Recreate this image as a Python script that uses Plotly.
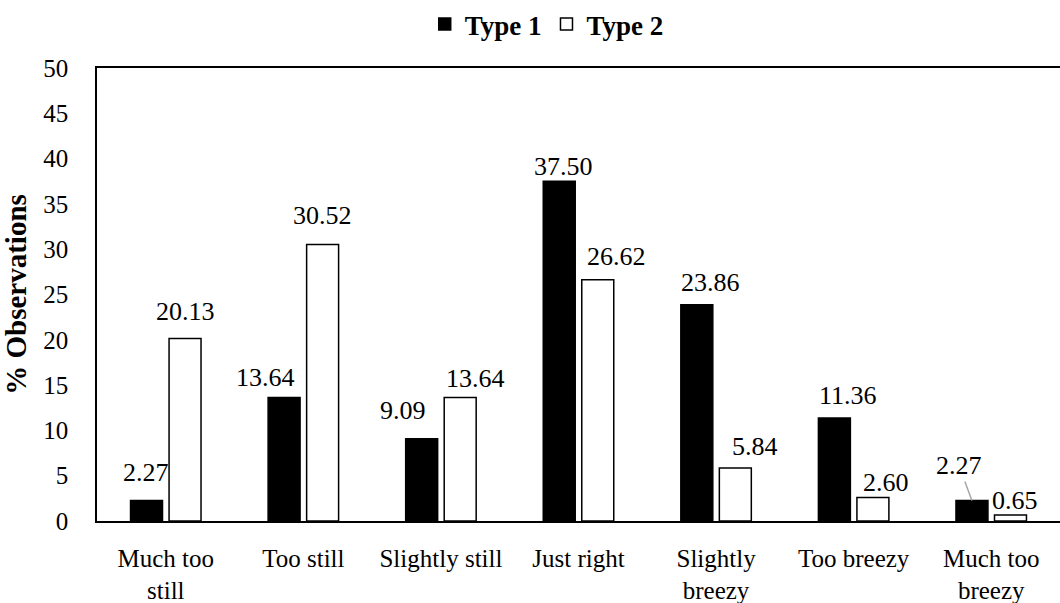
import plotly.graph_objects as go

categories = ["Much too<br>still", "Too still", "Slightly still", "Just right",
              "Slightly<br>breezy", "Too breezy", "Much too<br>breezy"]
type1 = [2.27, 13.64, 9.09, 37.50, 23.86, 11.36, 2.27]
type2 = [20.13, 30.52, 13.64, 26.62, 5.84, 2.60, 0.65]
y_ticks = [0, 5, 10, 15, 20, 25, 30, 35, 40, 45, 50]

# label placement tweaks (pixels): horizontal nudge from bar centre, gap above bar
t1_dx = [0, -19, -19, 4, 14, 14, -13]
t1_gap = [17, 9, 18, 4, 12, 12, 0]
t2_dx = [0, 0, 15, 19, 20, 13, 4]
t2_gap = [17, 18, 8, 13, 11, 4, 4]

FONT = "Liberation Serif, Times New Roman, Times, DejaVu Serif, serif"
SLOT = 19.3  # bar centre offset from category centre (px)
BASE = 6     # baseline offset inside annotation box

fig = go.Figure()
fig.add_trace(go.Bar(
    x=categories, y=type1, name="Type 1",
    marker=dict(color="black", line=dict(color="black", width=1.5)),
))
fig.add_trace(go.Bar(
    x=categories, y=type2, name="Type 2",
    marker=dict(color="white", line=dict(color="black", width=1.5)),
))

lab_font = dict(family=FONT, size=26, color="black")
for i, (c, v) in enumerate(zip(categories, type1)):
    if i == len(categories) - 1:
        fig.add_annotation(
            x=c, y=v, xshift=-SLOT, text=f"{v:.2f}", showarrow=True,
            arrowhead=0, arrowwidth=1.5, arrowcolor="#a6a6a6",
            ax=t1_dx[i], ay=-35, standoff=0, font=lab_font,
        )
    else:
        fig.add_annotation(
            x=c, y=v, xshift=-SLOT + t1_dx[i], yshift=t1_gap[i] - BASE,
            yanchor="bottom", text=f"{v:.2f}", showarrow=False, font=lab_font,
        )
for i, (c, v) in enumerate(zip(categories, type2)):
    fig.add_annotation(
        x=c, y=v, xshift=SLOT + t2_dx[i], yshift=t2_gap[i] - BASE,
        yanchor="bottom", text=f"{v:.2f}", showarrow=False, font=lab_font,
    )

fig.update_layout(
    width=1060, height=603,
    margin=dict(l=97, r=0, t=68, b=82),
    paper_bgcolor="white", plot_bgcolor="white",
    barmode="group", bargap=0.44, bargroupgap=0.17,
    showlegend=True,
    legend=dict(orientation="h", x=0.467, xref="paper", xanchor="center",
                y=1.0, yref="container", yanchor="top",
                font=dict(family=FONT, size=27, color="black", weight="bold"),
                itemwidth=30, traceorder="normal"),
    font=dict(family=FONT, color="black"),
)
fig.update_yaxes(
    range=[0, 50], tickvals=y_ticks, showgrid=False, zeroline=False,
    showline=True, linecolor="black", linewidth=1.5,
    ticks="", tickfont=dict(family=FONT, size=25, color="black"),
    ticklabelstandoff=22,
    title=dict(text="% Observations", standoff=8,
               font=dict(family=FONT, size=29, color="black", weight="bold")),
)
fig.update_xaxes(
    showline=True, mirror=True, linecolor="black", linewidth=1.5,
    showgrid=False, ticks="", tickfont=dict(family=FONT, size=25, color="black"),
    ticklabelstandoff=14, tickangle=0,
)

fig.write_html("out.html")
